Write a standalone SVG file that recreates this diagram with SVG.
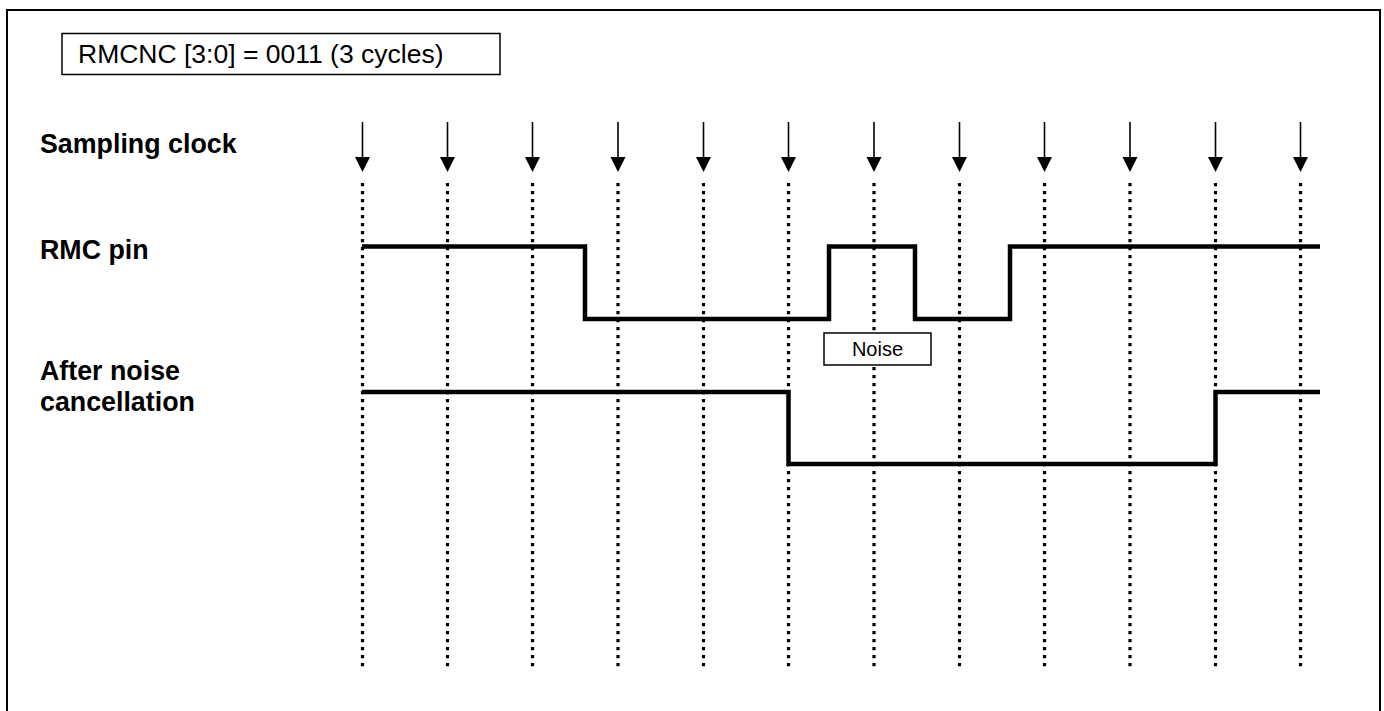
<svg xmlns="http://www.w3.org/2000/svg" width="1384" height="711" viewBox="0 0 1384 711">
<style>
.lbl{font-family:"Liberation Sans",Arial,sans-serif;font-weight:bold;font-size:26.8px;fill:#000}
.txt{font-family:"Liberation Sans",Arial,sans-serif;font-size:26.5px;fill:#000}
.small{font-family:"Liberation Sans",Arial,sans-serif;font-size:20px;fill:#000}
.box{fill:#fff;stroke:#000;stroke-width:1.5}
.dot{stroke:#000;stroke-width:3.2;stroke-dasharray:3.2 4.8;fill:none}
.sig{stroke:#000;stroke-width:4.5;fill:none;stroke-linejoin:miter}
.clk{stroke:#000;stroke-width:1.6}
</style>
<defs>
<g id="arrow">
<line class="clk" x1="0" y1="122" x2="0" y2="159"/>
<polygon points="-7.5,157 7.5,157 0,172" fill="#000"/>
</g>
</defs>
<rect x="0" y="0" width="1384" height="711" fill="#fff"/>
<rect id="frame" x="7" y="10" width="1373" height="720" fill="none" stroke="#000" stroke-width="2"/>
<g id="title">
<rect class="box" x="62" y="33.5" width="438" height="41"/>
<text class="txt" x="78" y="63">RMCNC [3:0] = 0011 (3 cycles)</text>
</g>
<g id="label-sampling"><text class="lbl" x="40" y="153">Sampling clock</text></g>
<g id="label-rmc"><text class="lbl" x="40" y="259">RMC pin</text></g>
<g id="label-after"><text class="lbl" x="40" y="380">After noise</text><text class="lbl" x="40" y="411">cancellation</text></g>
<g id="clock">
<use href="#arrow" x="362.5"/>
<use href="#arrow" x="447.5"/>
<use href="#arrow" x="532.5"/>
<use href="#arrow" x="618"/>
<use href="#arrow" x="703.5"/>
<use href="#arrow" x="788.5"/>
<use href="#arrow" x="874"/>
<use href="#arrow" x="959.5"/>
<use href="#arrow" x="1044.5"/>
<use href="#arrow" x="1130"/>
<use href="#arrow" x="1215.5"/>
<use href="#arrow" x="1300.5"/>
</g>
<g id="gridlines">
<line class="dot" x1="362.5" y1="183" x2="362.5" y2="667"/>
<line class="dot" x1="447.5" y1="183" x2="447.5" y2="667"/>
<line class="dot" x1="532.5" y1="183" x2="532.5" y2="667"/>
<line class="dot" x1="618" y1="183" x2="618" y2="667"/>
<line class="dot" x1="703.5" y1="183" x2="703.5" y2="667"/>
<line class="dot" x1="788.5" y1="183" x2="788.5" y2="667"/>
<line class="dot" x1="874" y1="183" x2="874" y2="667"/>
<line class="dot" x1="959.5" y1="183" x2="959.5" y2="667"/>
<line class="dot" x1="1044.5" y1="183" x2="1044.5" y2="667"/>
<line class="dot" x1="1130" y1="183" x2="1130" y2="667"/>
<line class="dot" x1="1215.5" y1="183" x2="1215.5" y2="667"/>
<line class="dot" x1="1300.5" y1="183" x2="1300.5" y2="667"/>
</g>
<g id="signals">
<path id="rmc-pin" class="sig" d="M362,246.5 H585 V319 H829 V246.5 H915 V319 H1010 V246.5 H1320"/>
<path id="after-nc" class="sig" d="M362,392 H788.5 V464 H1215.5 V392 H1320"/>
</g>
<g id="noise">
<rect class="box" x="824" y="333" width="107" height="32"/>
<text class="small" x="877.5" y="356" text-anchor="middle">Noise</text>
</g>
</svg>
